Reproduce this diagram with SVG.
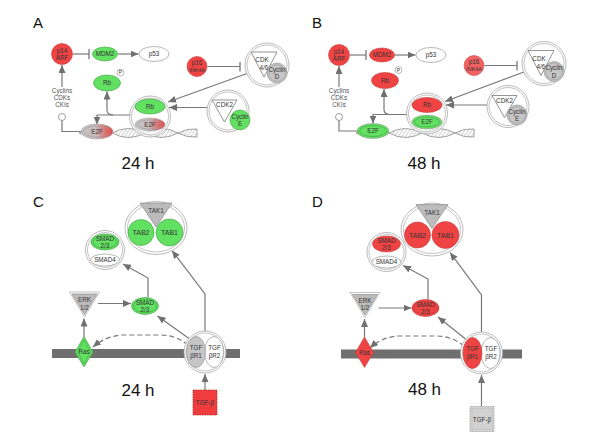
<svg xmlns="http://www.w3.org/2000/svg" width="600" height="442" viewBox="0 0 600 442">
<style>
.red{fill:#f04444;stroke:#c43a3a;stroke-width:.6}
.red2{fill:#f26262;stroke:#c85050;stroke-width:.6}
.grn{fill:#62e062;stroke:#3f9f3f;stroke-width:.6}
.gry{fill:#c6c6c6;stroke:#8c8c8c;stroke-width:.6}
.wht{fill:#fff;stroke:#999;stroke-width:.7}
.ring{fill:none;stroke:#9a9a9a;stroke-width:.6}
.cx{fill:#fff;fill-opacity:.75;stroke:#a8a8a8;stroke-width:.8}
.tri{fill:#fff;stroke:#7a7a7a;stroke-width:.8}
.trig{fill:#bcbcbc;stroke:#8a8a8a;stroke-width:.7}
.lbl{font-family:"Liberation Sans",Arial,sans-serif;font-size:6.3px;fill:#333;text-anchor:middle}
.big{font-family:"Liberation Sans",Arial,sans-serif;font-size:17px;fill:#111;text-anchor:middle}
.pl{font-family:"Liberation Sans",Arial,sans-serif;font-size:15px;fill:#111}
.e{stroke:#787878;stroke-width:1.2;fill:none}
.arr{marker-end:url(#ah)}
.inh{marker-end:url(#bar)}
.dash{stroke-dasharray:5,3}
.mem{fill:#6f6f6f}
.dna{fill:url(#hatch);stroke:#8c8c8c;stroke-width:.8;fill-rule:evenodd}
</style>
<defs>
<marker id="ah" markerUnits="userSpaceOnUse" markerWidth="9" markerHeight="8" refX="8" refY="3.5" orient="auto"><path d="M0,0 L8,3.5 L0,7 z" fill="#707070"/></marker>
<marker id="bar" markerUnits="userSpaceOnUse" markerWidth="3" markerHeight="10" refX="1.5" refY="5" orient="auto"><path d="M1.5,0 L1.5,10" stroke="#787878" stroke-width="1.3"/></marker>
<linearGradient id="e2fr" x1="0" y1="0" x2="1" y2="0"><stop offset="0" stop-color="#c4c4c4"/><stop offset=".45" stop-color="#c9bcbc"/><stop offset="1" stop-color="#e83c3c"/></linearGradient>
<pattern id="hatch" width="3" height="3" patternUnits="userSpaceOnUse" patternTransform="rotate(35)"><line x1="0" y1="0" x2="0" y2="3" stroke="#999" stroke-width=".9"/></pattern>
</defs>

<!-- ================= PANEL A ================= -->
<text class="pl" x="33" y="28">A</text>
<path class="dna" d="M79,133 Q95.5,142 112,133 Q128.5,124 145,133 Q161.5,142 178,133 Q187,128 197,129 L197,137 Q187,138 178,133 Q161.5,124 145,133 Q128.5,142 112,133 Q95.5,124 79,133 z"/>
<g id="A-edges">
<line class="e inh" x1="73" y1="54" x2="89" y2="54"/>
<line class="e arr" x1="118" y1="54" x2="138.5" y2="54"/>
<line class="e arr" x1="62" y1="87" x2="62" y2="65"/>
<path class="e" d="M62,120.5 L62,131.5 L81,131.5"/>
<path class="e arr" d="M131,115 L97,115 L97,124.5"/>
<path class="e arr" d="M113,115 Q107,115 107,110 L107,91.5"/>
<line class="e arr" x1="247" y1="73.5" x2="168" y2="102"/>
<line class="e arr" x1="207" y1="107.5" x2="169" y2="107.5"/>
<line class="e inh" x1="207.5" y1="66.5" x2="240" y2="66.5"/>
</g>
<g id="A-p14"><circle cx="62" cy="54" r="10.5" class="red"/><text class="lbl" x="62" y="52.5">p14</text><text class="lbl" x="62" y="59.5">ARF</text></g>
<g id="A-mdm2"><ellipse cx="105" cy="54" rx="12.5" ry="7" class="grn"/><text class="lbl" x="105" y="56.3">MDM2</text></g>
<g id="A-p53"><ellipse cx="154" cy="54" rx="15" ry="7.5" class="wht"/><text class="lbl" x="154" y="56.3">p53</text></g>
<g id="A-rbp"><ellipse cx="107" cy="83" rx="13.5" ry="8" class="grn"/><text class="lbl" x="107" y="85.3">Rb</text><circle cx="120.5" cy="72.5" r="3.5" class="wht"/><text class="lbl" x="120.5" y="74.4" style="font-size:5px">P</text></g>
<g id="A-cdks"><text class="lbl" x="62" y="93" style="fill:#555">Cyclins</text><text class="lbl" x="62" y="100" style="fill:#555">CDKs</text><text class="lbl" x="62" y="107" style="fill:#555">CKIs</text><circle cx="62" cy="117" r="3.5" class="wht" style="stroke:#777"/></g>
<g id="A-e2f"><ellipse cx="97" cy="131.5" rx="16" ry="7.5" fill="url(#e2fr)" stroke="#aaa" stroke-width=".7"/><ellipse cx="97" cy="131.5" rx="13.5" ry="5.5" class="ring"/><text class="lbl" x="97" y="133.8">E2F</text></g>
<g id="A-rbe2f"><circle cx="150" cy="116.5" r="20.5" class="cx"/><circle cx="150" cy="116.5" r="18.5" class="ring"/><ellipse cx="150" cy="106.5" rx="15" ry="7.5" class="grn"/><text class="lbl" x="150" y="108.8">Rb</text><ellipse cx="150" cy="124.5" rx="15" ry="6.5" fill="url(#e2fr)" stroke="#aaa" stroke-width=".7"/><ellipse cx="150" cy="124.5" rx="12.5" ry="4.6" class="ring"/><text class="lbl" x="150" y="126.8">E2F</text></g>
<g id="A-p16"><circle cx="197" cy="66.5" r="10" class="red"/><text class="lbl" x="197" y="64.5">p16</text><text class="lbl" x="197" y="71.5" style="font-size:5.6px">INK4A</text></g>
<g id="A-cdk46"><circle cx="267" cy="65" r="22" class="cx"/><circle cx="267" cy="65" r="20" class="ring"/><path class="tri" d="M251,52 L277,52 L264,77 z"/><text class="lbl" x="262" y="62">CDK</text><text class="lbl" x="264" y="70">4/6</text><circle cx="277" cy="73" r="10" class="gry"/><circle cx="277" cy="73" r="8.3" class="ring"/><text class="lbl" x="277" y="71.5">Cyclin</text><text class="lbl" x="277" y="79">D</text></g>
<g id="A-cdk2"><circle cx="228" cy="111" r="21" class="cx"/><circle cx="228" cy="111" r="19" class="ring"/><path class="tri" d="M212,100 L237,100 L224.5,122 z"/><text class="lbl" x="224.5" y="107">CDK2</text><circle cx="240" cy="120" r="10" class="grn"/><text class="lbl" x="240" y="118.5">Cyclin</text><text class="lbl" x="240" y="125.5">E</text></g>
<text class="big" x="138" y="169">24 h</text>

<!-- ================= PANEL B ================= -->
<text class="pl" x="312" y="28">B</text>
<g transform="translate(277,0)">
<path class="dna" d="M79,133 Q95.5,142 112,133 Q128.5,124 145,133 Q161.5,142 178,133 Q187,128 197,129 L197,137 Q187,138 178,133 Q161.5,124 145,133 Q128.5,142 112,133 Q95.5,124 79,133 z"/>
<g id="B-edges">
<line class="e inh" x1="73" y1="55" x2="89" y2="55"/>
<line class="e arr" x1="118" y1="55" x2="138.5" y2="55"/>
<line class="e arr" x1="62" y1="87" x2="62" y2="66"/>
<path class="e" d="M62,120.5 L62,131 L81,131"/>
<path class="e arr" d="M131,114.5 L96,114.5 L96,123.5"/>
<path class="e arr" d="M113,114.5 Q107,114.5 107,109.5 L107,89"/>
<line class="e arr" x1="247" y1="72" x2="168" y2="101.5"/>
<line class="e arr" x1="210" y1="105" x2="169" y2="105"/>
<line class="e inh" x1="207.5" y1="65.5" x2="240" y2="65.5"/>
</g>
<g id="B-p14"><circle cx="62" cy="55" r="10.5" class="red"/><text class="lbl" x="62" y="53.5">p14</text><text class="lbl" x="62" y="60.5">ARF</text></g>
<g id="B-mdm2"><ellipse cx="105" cy="55" rx="12.5" ry="7" class="red"/><text class="lbl" x="105" y="57.3">MDM2</text></g>
<g id="B-p53"><ellipse cx="154" cy="55" rx="15" ry="7.5" class="wht"/><text class="lbl" x="154" y="57.3">p53</text></g>
<g id="B-rbp"><ellipse cx="108" cy="80.5" rx="13.5" ry="8" class="red"/><text class="lbl" x="108" y="82.8">Rb</text><circle cx="121.5" cy="70" r="3.5" class="wht"/><text class="lbl" x="121.5" y="71.9" style="font-size:5px">P</text></g>
<g id="B-cdks"><text class="lbl" x="62" y="93" style="fill:#555">Cyclins</text><text class="lbl" x="62" y="100" style="fill:#555">CDKs</text><text class="lbl" x="62" y="107" style="fill:#555">CKIs</text><circle cx="62" cy="117" r="3.5" class="wht" style="stroke:#777"/></g>
<g id="B-e2f"><ellipse cx="96" cy="131" rx="16" ry="7.5" class="grn" style="stroke:#999"/><ellipse cx="96" cy="131" rx="13.5" ry="5.5" class="ring" style="stroke:#3f9f3f"/><text class="lbl" x="96" y="133.3">E2F</text></g>
<g id="B-rbe2f"><circle cx="150" cy="113.5" r="20.5" class="cx"/><circle cx="150" cy="113.5" r="18.5" class="ring"/><ellipse cx="150" cy="105" rx="15" ry="7.5" class="red"/><text class="lbl" x="150" y="107.3">Rb</text><ellipse cx="150" cy="122" rx="15" ry="7" class="grn" style="stroke:#999"/><ellipse cx="150" cy="122" rx="12.5" ry="5" class="ring" style="stroke:#3f9f3f"/><text class="lbl" x="150" y="124.3">E2F</text></g>
<g id="B-p16"><circle cx="197" cy="65.5" r="10" class="red2"/><text class="lbl" x="197" y="63.5">p16</text><text class="lbl" x="197" y="70.5" style="font-size:5.6px">INK4A</text></g>
<g id="B-cdk46"><circle cx="267" cy="63.5" r="22" class="cx"/><circle cx="267" cy="63.5" r="20" class="ring"/><path class="tri" d="M251,50.5 L277,50.5 L264,75.5 z"/><text class="lbl" x="262" y="60.5">CDK</text><text class="lbl" x="264" y="68.5">4/6</text><circle cx="277" cy="71.5" r="10" class="gry"/><circle cx="277" cy="71.5" r="8.3" class="ring"/><text class="lbl" x="277" y="70">Cyclin</text><text class="lbl" x="277" y="77.5">D</text></g>
<g id="B-cdk2"><circle cx="231" cy="106.5" r="21" class="cx"/><circle cx="231" cy="106.5" r="19" class="ring"/><path class="tri" d="M215,95.5 L240,95.5 L227.5,117.5 z"/><text class="lbl" x="227.5" y="102.5">CDK2</text><circle cx="240" cy="115" r="10" class="gry"/><circle cx="240" cy="115" r="8.3" class="ring"/><text class="lbl" x="240" y="113.5">Cyclin</text><text class="lbl" x="240" y="120.5">E</text></g>
<text class="big" x="147" y="169">48 h</text>
</g>

<!-- ================= PANEL C ================= -->
<text class="pl" x="33" y="207">C</text>
<rect class="mem" x="52" y="349" width="188" height="9"/>
<g id="C-edges">
<line class="e arr" x1="84" y1="337" x2="84" y2="318.5"/>
<line class="e arr" x1="98" y1="303.5" x2="131" y2="303.5"/>
<path class="e arr" d="M148,297.5 L148,278 L123,264"/>
<path class="e arr" d="M205,331 L205,294 L172,250.5"/>
<line class="e arr" x1="189" y1="338.5" x2="157.5" y2="316"/>
<path class="e arr dash" d="M188,345 Q176,335 160,335 L122,335 Q106,336 93,347"/>
<line class="e arr" x1="205" y1="390" x2="205" y2="374"/>
</g>
<g id="C-tak"><ellipse cx="156" cy="228" rx="31" ry="26.5" class="cx"/><ellipse cx="156" cy="228" rx="28.5" ry="24" class="ring"/><circle cx="141" cy="232.5" r="13" class="grn"/><circle cx="169.5" cy="232.5" r="13.5" class="grn"/><path class="trig" d="M140,203 L172,203 L156,227 z"/><text class="lbl" x="156" y="213">TAK1</text><text class="lbl" x="141" y="235" style="font-size:7px">TAB2</text><text class="lbl" x="169.5" y="235" style="font-size:7px">TAB1</text></g>
<g id="C-smadcx"><circle cx="105" cy="250" r="19.5" class="cx"/><circle cx="105" cy="250" r="17.5" class="ring"/><ellipse cx="105" cy="260" rx="14.5" ry="6" class="wht"/><text class="lbl" x="105" y="262.3">SMAD4</text><ellipse cx="105" cy="242" rx="14" ry="8" class="grn"/><ellipse cx="105" cy="242" rx="12" ry="6.3" class="ring" style="stroke:#3f9f3f"/><text class="lbl" x="105" y="240.5">SMAD</text><text class="lbl" x="105" y="247.5">2/3</text></g>
<g id="C-erk"><path d="M69.5,292 L99.5,292 L84.5,317 z" fill="none" stroke="#aaa" stroke-width=".7"/><path class="trig" d="M72,294 L97,294 L84.5,314.5 z"/><text class="lbl" x="84.5" y="302">ERK</text><text class="lbl" x="84.5" y="309.5">1/2</text></g>
<g id="C-ras"><path class="grn" d="M84,336.5 L93,352 L84,367 L75,352 z"/><path d="M84,339.5 L90.5,352 L84,364 L77.5,352 z" class="ring" style="stroke:#3f9f3f"/><text class="lbl" x="84" y="354.3">Ras</text></g>
<g id="C-smad"><ellipse cx="145" cy="306" rx="13.5" ry="8.5" class="grn"/><ellipse cx="145" cy="306" rx="11.5" ry="6.7" class="ring" style="stroke:#3f9f3f"/><text class="lbl" x="145" y="304.5">SMAD</text><text class="lbl" x="145" y="311.5">2/3</text></g>
<g id="C-tgfr"><circle cx="205" cy="352" r="21" class="cx" style="fill-opacity:1"/><circle cx="205" cy="352" r="19" class="ring"/><ellipse cx="214" cy="352" rx="9.5" ry="15.5" class="wht"/><ellipse cx="196" cy="352" rx="9.5" ry="15.5" class="gry"/><text class="lbl" x="196" y="350">TGF</text><text class="lbl" x="196" y="358">βR1</text><text class="lbl" x="214.5" y="350">TGF</text><text class="lbl" x="214.5" y="358">βR2</text></g>
<g id="C-tgfb"><rect x="193" y="390" width="24" height="25" fill="#f03c3c" stroke="#b83030" stroke-width=".8" stroke-dasharray="1.5,1"/><text class="lbl" x="205" y="405">TGF-β</text></g>
<text class="big" x="138" y="396">24 h</text>

<!-- ================= PANEL D ================= -->
<text class="pl" x="312" y="207">D</text>
<rect class="mem" x="341" y="349.5" width="181" height="9"/>
<g id="D-edges">
<line class="e arr" x1="364.5" y1="337" x2="364.5" y2="319"/>
<line class="e arr" x1="378.5" y1="308" x2="411.5" y2="308"/>
<path class="e arr" d="M428,299.5 L428,279 L403,265.5"/>
<path class="e arr" d="M481.5,332 L481.5,295 L450,252.5"/>
<line class="e arr" x1="465.5" y1="339" x2="438" y2="317"/>
<path class="e arr dash" d="M464,346 Q452,336 436,336 L398,336 Q382,337 370,348"/>
<line class="e arr" x1="481.5" y1="406" x2="481.5" y2="375"/>
</g>
<g id="D-tak"><ellipse cx="432" cy="229.5" rx="31" ry="26.5" class="cx"/><ellipse cx="432" cy="229.5" rx="28.5" ry="24" class="ring"/><circle cx="417.5" cy="235" r="13" class="red"/><circle cx="445.5" cy="235" r="13.5" class="red"/><path class="trig" d="M416,204.5 L448,204.5 L432,228.5 z"/><text class="lbl" x="432" y="214.5">TAK1</text><text class="lbl" x="417.5" y="237.5" style="font-size:7px">TAB2</text><text class="lbl" x="445.5" y="237.5" style="font-size:7px">TAB1</text></g>
<g id="D-smadcx"><circle cx="386.5" cy="252" r="19.5" class="cx"/><circle cx="386.5" cy="252" r="17.5" class="ring"/><ellipse cx="386.5" cy="262" rx="14.5" ry="6" class="wht"/><text class="lbl" x="386.5" y="264.3">SMAD4</text><ellipse cx="386.5" cy="244" rx="14" ry="8" class="red"/><text class="lbl" x="386.5" y="242.5">SMAD</text><text class="lbl" x="386.5" y="249.5">2/3</text></g>
<g id="D-erk"><path d="M350,292.5 L380,292.5 L365,317.5 z" fill="none" stroke="#aaa" stroke-width=".7"/><path class="trig" d="M352.5,294.5 L377.5,294.5 L365,315 z"/><text class="lbl" x="365" y="302.5">ERK</text><text class="lbl" x="365" y="310">1/2</text></g>
<g id="D-ras"><path class="red" d="M364.5,337 L373.5,352.5 L364.5,367.5 L355.5,352.5 z"/><text class="lbl" x="364.5" y="354.8">Ras</text></g>
<g id="D-smad"><ellipse cx="425.5" cy="308" rx="13.5" ry="8.5" class="red"/><ellipse cx="425.5" cy="308" rx="11.5" ry="6.7" class="ring" style="stroke:#c43a3a"/><text class="lbl" x="425.5" y="306.5">SMAD</text><text class="lbl" x="425.5" y="313.5">2/3</text></g>
<g id="D-tgfr"><circle cx="481.5" cy="353" r="21" class="cx" style="fill-opacity:1"/><circle cx="481.5" cy="353" r="19" class="ring"/><ellipse cx="490.5" cy="353" rx="9.5" ry="15.5" class="wht"/><ellipse cx="472.5" cy="353" rx="9.5" ry="15.5" class="red"/><text class="lbl" x="472.5" y="351">TGF</text><text class="lbl" x="472.5" y="359">βR1</text><text class="lbl" x="491" y="351">TGF</text><text class="lbl" x="491" y="359">βR2</text></g>
<g id="D-tgfb"><rect x="470" y="406.5" width="24" height="25" fill="#d2d2d2" stroke="#999" stroke-width=".8" stroke-dasharray="1.5,1"/><rect x="472" y="408.5" width="20" height="21" fill="none" stroke="#aaa" stroke-width=".5" stroke-dasharray="1,1"/><text class="lbl" x="482" y="421.5">TGF-β</text></g>
<text class="big" x="424.5" y="395">48 h</text>
</svg>
